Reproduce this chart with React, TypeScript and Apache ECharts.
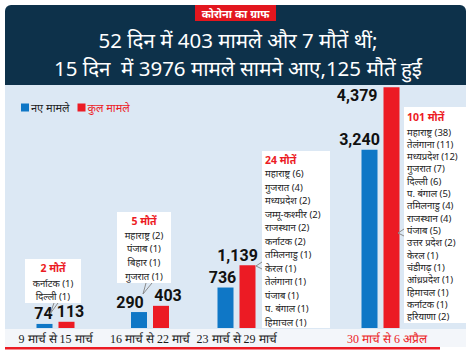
import React, { useEffect, useRef } from "react";
import * as echarts from "echarts";

// ---- data ----
const categories = ["9 मार्च से 15 मार्च", "16 मार्च से 22 मार्च", "23 मार्च से 29 मार्च", "30 मार्च से 6 अप्रैल"];
const newCases = [74, 290, 736, 3240];
const totalCases = [113, 403, 1139, 4379];
const seriesNames = ["नए मामले", "कुल मामले"];

const tagText = "कोरोना का ग्राफ";
const titleLine1 = "52 दिन में 403 मामले और 7 मौतें थीं;";
const titleLine2 = "15 दिन  में 3976 मामले सामने आए,125 मौतें हुईं";

const deathTotals = [2, 5, 24, 101];
const deathStates1 = ["कर्नाटक (1)", "दिल्ली (1)"];
const deathStates2 = ["महाराष्ट्र (2)", "पंजाब (1)", "बिहार (1)", "गुजरात (1)"];
const deathStates3 = [
  "महाराष्ट्र (6)", "गुजरात (4)", "मध्यप्रदेश (2)", "जम्मू-कश्मीर (2)", "राजस्थान (2)", "कर्नाटक (2)",
  "तमिलनाडु (1)", "केरल (1)", "तेलंगाना (1)", "पंजाब (1)", "प. बंगाल (1)", "हिमाचल (1)",
];
const deathStates4 = [
  "महाराष्ट्र (38)", "तेलंगाना (11)", "मध्यप्रदेश (12)", "गुजरात (7)", "दिल्ली (6)", "प. बंगाल (5)",
  "तमिलनाडु (4)", "राजस्थान (4)", "पंजाब (5)", "उत्तर प्रदेश (2)", "केरल (1)", "चंडीगढ़ (1)",
  "आंध्रप्रदेश (1)", "हिमाचल (1)", "कर्नाटक (1)", "हरियाणा (2)",
];

// ---- layout / style ----
const BLUE = "#0f77c6";
const RED = "#ec1b24";
const NAVY = "#0d314a";
const PANEL = "#dce8f4";
const FONT = "'Noto Sans', sans-serif";
const groupCenters = [55.5, 150, 236.5, 380.5];
const GRID_W = 90;
const newLabelOffsets = [[-1, 0], [-9, 0], [-3, 0], [-10, 0]];
const totalLabelOffsets = [[4, 0], [7, 0], [-10, 0], [0, 0]];

const fmt = (v: number) => v.toLocaleString("en-US");

function buildOption(): any {
  const grids = groupCenters.map((c) => ({ left: c - GRID_W / 2, width: GRID_W, top: 86, bottom: 27 }));
  const xAxes = categories.map((cat, i) => ({
    type: "category",
    gridIndex: i,
    data: [cat],
    axisLine: { show: false },
    axisTick: { show: false },
    axisLabel: {
      interval: 0,
      margin: 5,
      fontSize: 12,
      fontFamily: "'Liberation Serif', serif",
      color: i === 3 ? RED : "#1a1a1a",
      padding: i === 3 ? [0, 0, 0, 13] : 0,
    },
  }));
  const yAxes = categories.map((_, i) => ({ type: "value", gridIndex: i, min: 0, max: 4400, show: false }));
  const labelBase = { show: true, fontSize: 16, fontWeight: "bold", fontFamily: "Roboto, sans-serif", color: "#111" };
  const series: any[] = [];
  categories.forEach((_, i) => {
    series.push({
      type: "bar",
      name: seriesNames[0],
      xAxisIndex: i,
      yAxisIndex: i,
      barWidth: 16,
      barGap: "37.5%",
      itemStyle: { color: BLUE },
      label: { ...labelBase, position: "top", distance: 2, offset: newLabelOffsets[i], formatter: (p: any) => fmt(p.value) },
      data: [newCases[i]],
    });
    const lastRed = i === 3;
    series.push({
      type: "bar",
      name: seriesNames[1],
      xAxisIndex: i,
      yAxisIndex: i,
      barWidth: 16,
      barGap: "37.5%",
      itemStyle: { color: RED },
      label: lastRed
        ? { ...labelBase, position: [-6, 0], align: "right", verticalAlign: "top", formatter: (p: any) => fmt(p.value) }
        : { ...labelBase, position: "top", distance: 2, offset: totalLabelOffsets[i], formatter: (p: any) => fmt(p.value) },
      data: [totalCases[i]],
    });
  });

  const stateStyle = { fontSize: 9.5, fontFamily: FONT, fill: "#222" };
  const headStyle = { fontSize: 10.5, fontWeight: "bold", fontFamily: FONT, fill: RED };
  const box = (x: number, y: number, w: number, h: number) => ({
    type: "rect", shape: { x, y, width: w, height: h }, style: { fill: "#ffffff" }, z: 5,
  });
  const pointer = (pts: number[][]) => ({
    type: "polyline", shape: { points: pts }, style: { stroke: "#8a8a8a", lineWidth: 1, fill: null }, z: 6,
  });
  const txt = (x: number, y: number, text: string, style: any, align = "left") => ({
    type: "text", x, y, z: 7,
    style: { ...style, text, align, verticalAlign: "middle" },
  });
  const lines = (x: number, y0: number, step: number, list: string[], align = "left") =>
    list.map((s, k) => txt(x, y0 + k * step, s, stateStyle, align));

  const graphic: any[] = [
    // header
    { type: "rect", shape: { x: 5, y: 5, width: 461, height: 80, r: [6, 6, 0, 0] }, style: { fill: NAVY }, z: 0 },
    { type: "rect", shape: { x: 195, y: 5, width: 81, height: 16 }, style: { fill: "#e3161e" }, z: 1 },
    { type: "text", x: 235.5, y: 13, z: 2, style: { text: tagText, fill: "#fff", fontSize: 11, fontWeight: "bold", fontFamily: FONT, align: "center", verticalAlign: "middle" } },
    { type: "text", x: 238, y: 40, z: 2, style: { text: titleLine1, fill: "#fff", fontSize: 20.5, fontFamily: FONT, align: "center", verticalAlign: "middle" } },
    { type: "text", x: 238, y: 68, z: 2, style: { text: titleLine2, fill: "#fff", fontSize: 20.5, fontFamily: FONT, align: "center", verticalAlign: "middle" } },
    // panel
    { type: "rect", shape: { x: 5, y: 85, width: 461, height: 244 }, style: { fill: PANEL }, z: -1 },
    { type: "rect", shape: { x: 5, y: 329, width: 461, height: 18 }, style: { fill: "#f3f6fa" }, z: -1 },
    { type: "rect", shape: { x: 5, y: 347, width: 435, height: 2.5 }, style: { fill: RED }, z: 1 },
    // box 1
    box(25, 259, 56, 44),
    txt(53, 268, `${deathTotals[0]} मौतें`, headStyle, "center"),
    ...lines(53, 283, 13, deathStates1, "center"),
    pointer([[54, 303], [50, 314], [58, 303]]),
    // box 2
    box(117, 212, 54, 71),
    txt(144, 221, `${deathTotals[1]} मौतें`, headStyle, "center"),
    ...lines(144, 235, 13.7, deathStates2, "center"),
    pointer([[146, 283], [143, 294], [152, 283]]),
    // box 3
    box(262, 151, 68, 177),
    txt(265, 160, `${deathTotals[2]} मौतें`, headStyle),
    ...lines(265, 173.5, 13.5, deathStates3),
    pointer([[262, 262], [256, 266], [262, 269]]),
    // box 4
    box(404, 107, 62, 216),
    txt(407, 117, `${deathTotals[3]} मौतें`, headStyle),
    ...lines(407, 132, 12.33, deathStates4),
    pointer([[404, 229], [398, 233], [404, 236]]),
  ];

  return {
    animation: false,
    backgroundColor: "#ffffff",
    grid: grids,
    xAxis: xAxes,
    yAxis: yAxes,
    legend: {
      left: 16,
      top: 97,
      icon: "rect",
      itemWidth: 8,
      itemHeight: 8,
      itemGap: 8,
      textStyle: { fontSize: 11, fontFamily: FONT, padding: [0, 0, 0, -3] },
      data: [
        { name: seriesNames[0], textStyle: { color: "#222" } },
        { name: seriesNames[1], textStyle: { color: RED } },
      ],
    },
    series,
    graphic,
  };
}

export default function App() {
  const ref = useRef<HTMLDivElement>(null);
  useEffect(() => {
    if (!ref.current) return;
    const chart = echarts.init(ref.current, null, { renderer: "svg" });
    chart.setOption(buildOption());
    return () => chart.dispose();
  }, []);
  return <div ref={ref} style={{ position: "absolute", left: 0, top: 0, width: 474, height: 355 }} />;
}
